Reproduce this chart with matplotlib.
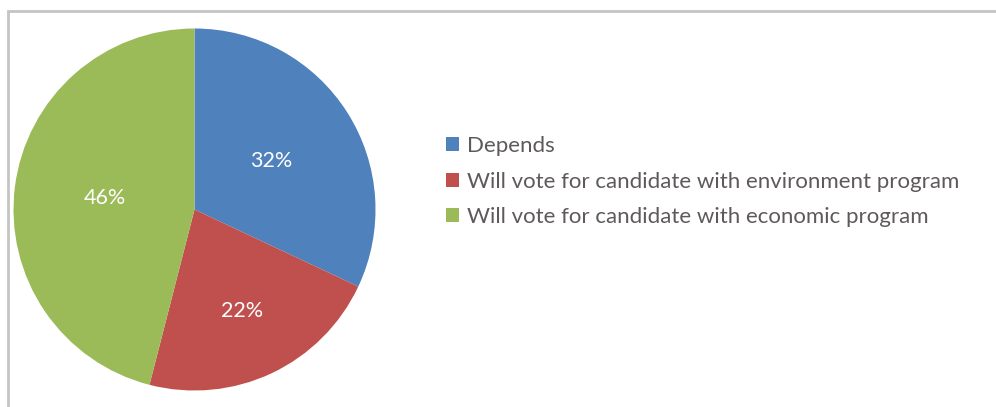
import numpy as np
import matplotlib.pyplot as plt
from matplotlib.patches import Rectangle

labels = ['Depends',
          'Will vote for candidate with environment program',
          'Will vote for candidate with economic program']
shares = [32, 22, 46]
colors = ['#4F81BD', '#C0504D', '#9BBB59']
label_dist = [0.50, 0.62, 0.50]

plt.rcParams['font.family'] = ['Lato', 'DejaVu Sans']

W, H = 996, 407
fig = plt.figure(figsize=(W / 100, H / 100), dpi=100)

# thin grey chart frame, running off the right and bottom edges
fig.patches.append(Rectangle((8 / W, -0.1), 1.2, 1 - 11 / H + 0.1,
                             transform=fig.transFigure, fill=False,
                             edgecolor='#c4c4c4', linewidth=2))

cx, cy, r = 194.5, 209.5, 181
ax = fig.add_axes([(cx - r) / W, (H - cy - r) / H, 2 * r / W, 2 * r / H])
wedges, _, autotexts = ax.pie(shares, colors=colors, startangle=90, counterclock=False,
                              autopct='%d%%', wedgeprops=dict(linewidth=0))
for w, t, d in zip(wedges, autotexts, label_dist):
    mid = np.deg2rad((w.theta1 + w.theta2) / 2)
    t.set_position((d * np.cos(mid), d * np.sin(mid)))
    t.set_color('white')
    t.set_fontsize(15.5)
ax.set_xlim(-1, 1)
ax.set_ylim(-1, 1)
ax.set_aspect('equal')

fig.legend(wedges, labels, loc='upper left', bbox_to_anchor=(426 / W, 1 - 116 / H),
           frameon=False, fontsize=16, handlelength=0.6, handleheight=0.6,
           handletextpad=0.35, labelspacing=0.7, labelcolor='#5f5a5a')

fig.savefig('out.png', dpi=100)
